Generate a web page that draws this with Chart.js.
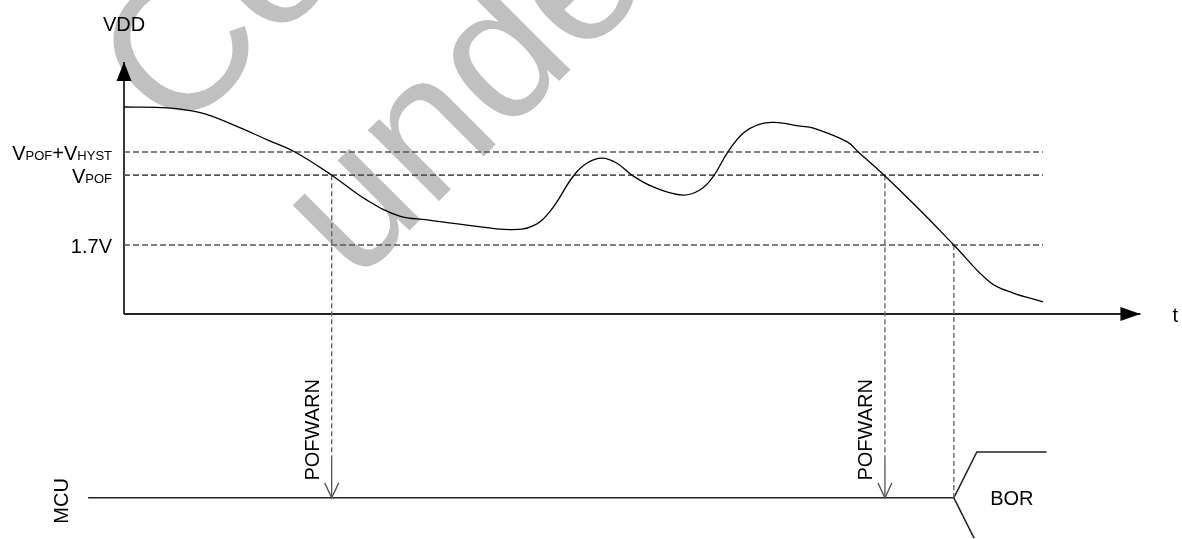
<!DOCTYPE html>
<html>
<head>
<meta charset="utf-8">
<script src="https://cdn.jsdelivr.net/npm/chart.js@4.4.1/dist/chart.umd.min.js"></script>
<style>
    html, body { margin: 0; padding: 0; background: #fff; }
    #chartElem { display: block; }
</style>
</head>
<body>
<canvas id="chartElem" width="1182" height="539"></canvas>
<script>
// VDD curve (time in 0..100, level in arbitrary volt-like units)
const vddTime = [0, 4.7, 8.3, 11.9, 15.6, 18.6, 22.6, 26.4, 30.0, 33.0, 37.3, 42.0, 44.5, 46.4, 48.9, 50.4, 52.0, 53.6, 55.4, 57.6, 60.8, 62.7, 64.1, 65.7, 67.4, 69.2, 70.8, 73.6, 75.0, 78.7, 79.9, 82.8, 86.6, 90.3, 94.2, 96.7, 100];
const vddLevel = [5.10, 5.08, 4.96, 4.66, 4.29, 3.99, 3.42, 2.81, 2.41, 2.32, 2.19, 2.08, 2.17, 2.54, 3.40, 3.72, 3.84, 3.72, 3.40, 3.13, 2.93, 3.06, 3.38, 3.99, 4.46, 4.68, 4.72, 4.63, 4.58, 4.24, 3.99, 3.40, 2.56, 1.70, 0.79, 0.52, 0.30];

// threshold lines
const thresholdLevels = [3.99, 3.42, 1.70];
const thresholdLabels = [
    [['V', 'big'], ['POF', 'small'], ['+', 'big'], ['V', 'big'], ['HYST', 'small']],
    [['V', 'big'], ['POF', 'small']],
    [['1.7V', 'big']]
];

// events
const warnTimes = [22.6, 82.8];
const warnLabel = 'POFWARN';
const borTime = 90.3;

// MCU line
const mcuLevel = -4.53;
const mcuStart = -3.9;
const arrowStartLevel = -3.60;
const borHighLevel = -3.40;
const borLowLevel = -5.52;
const borRiseTime = 92.8;
const borHighEnd = 100.4;
const borLowTime = 92.5;

// axes
const yAxisTop = 6.21;
const xAxisEnd = 110.6;

const FONT = '"Liberation Sans", Arial, sans-serif';

const lineSet = (data, color, width, dash) => ({
    data: data,
    borderColor: color,
    borderWidth: width,
    borderDash: dash || [],
    pointRadius: 0,
    fill: false,
    tension: 0,
    clip: false
});

const datasets = [];

// VDD curve
const vddSet = lineSet(vddTime.map((t, i) => ({ x: t, y: vddLevel[i] })), '#000', 1.3);
vddSet.tension = 0.4;
datasets.push(vddSet);

// thresholds
thresholdLevels.forEach((lvl) => {
    datasets.push(lineSet([{ x: 0, y: lvl }, { x: 100, y: lvl }], '#555', 1.6, [6, 3]));
});

// POFWARN drops
warnTimes.forEach((t) => {
    datasets.push(lineSet([{ x: t, y: thresholdLevels[1] }, { x: t, y: arrowStartLevel }], '#666', 1.4, [5, 3]));
    datasets.push(lineSet([{ x: t, y: arrowStartLevel }, { x: t, y: mcuLevel }], '#555', 1.3));
});
datasets.push(lineSet([{ x: borTime, y: thresholdLevels[2] }, { x: borTime, y: mcuLevel }], '#666', 1.4, [5, 3]));

// axes
datasets.push(lineSet([{ x: 0, y: 0 }, { x: 0, y: yAxisTop }], '#222', 1.8));
datasets.push(lineSet([{ x: 0, y: 0 }, { x: xAxisEnd, y: 0 }], '#222', 1.8));

// MCU + BOR
datasets.push(lineSet([{ x: mcuStart, y: mcuLevel }, { x: borTime, y: mcuLevel }], '#222', 1.5));
datasets.push(lineSet([{ x: borTime, y: mcuLevel }, { x: borRiseTime, y: borHighLevel }, { x: borHighEnd, y: borHighLevel }], '#222', 1.5));
datasets.push(lineSet([{ x: borTime, y: mcuLevel }, { x: borLowTime, y: borLowLevel }], '#222', 1.5));

// Watermark behind the drawing
const watermarkPlugin = {
    id: 'watermark',
    beforeDatasetsDraw(chart) {
        const ctx = chart.ctx;
        ctx.save();
        ctx.fillStyle = '#c0c0c0';
        ctx.font = '190px ' + FONT;
        [['Confidential', 176, 141], ['under NDA', 355, 285]].forEach(([txt, x, y]) => {
            ctx.save();
            ctx.translate(x, y);
            ctx.rotate(-Math.PI / 4);
            ctx.fillText(txt, 0, 0);
            ctx.restore();
        });
        ctx.restore();
    }
};

// Arrowheads and labels
const annotatePlugin = {
    id: 'annotate',
    afterDatasetsDraw(chart) {
        const ctx = chart.ctx;
        const xs = chart.scales.x;
        const ys = chart.scales.y;
        const px = (t) => xs.getPixelForValue(t);
        const py = (v) => ys.getPixelForValue(v);

        ctx.save();
        ctx.fillStyle = '#000';

        // y axis arrow
        const ax = px(0), ay = py(yAxisTop);
        ctx.beginPath();
        ctx.moveTo(ax, ay);
        ctx.lineTo(ax - 7.5, ay + 19);
        ctx.lineTo(ax + 7.5, ay + 19);
        ctx.closePath();
        ctx.fill();

        // x axis arrow
        const bx = px(xAxisEnd), by = py(0);
        ctx.beginPath();
        ctx.moveTo(bx, by);
        ctx.lineTo(bx - 20, by - 7);
        ctx.lineTo(bx - 20, by + 7);
        ctx.closePath();
        ctx.fill();

        // open arrowheads on POFWARN
        ctx.strokeStyle = '#555';
        ctx.lineWidth = 1.3;
        warnTimes.forEach((t) => {
            const x = px(t), y = py(mcuLevel);
            ctx.beginPath();
            ctx.moveTo(x - 7, y - 15);
            ctx.lineTo(x, y);
            ctx.lineTo(x + 7, y - 15);
            ctx.stroke();
        });

        const big = '20px ' + FONT;
        const small = '13px ' + FONT;
        ctx.fillStyle = '#000';
        ctx.textBaseline = 'alphabetic';

        // VDD and t
        ctx.font = big;
        ctx.textAlign = 'center';
        ctx.fillText('VDD', ax, ay - 31);
        ctx.textAlign = 'left';
        ctx.fillText('t', bx + 32, by + 8);

        // threshold labels, right aligned
        thresholdLabels.forEach((parts, i) => {
            const right = px(0) - 12;
            const base = py(thresholdLevels[i]) + 8;
            let total = 0;
            parts.forEach(([s, size]) => {
                ctx.font = size === 'big' ? big : small;
                total += ctx.measureText(s).width;
            });
            let x = right - total;
            ctx.textAlign = 'left';
            parts.forEach(([s, size]) => {
                ctx.font = size === 'big' ? big : small;
                ctx.fillText(s, x, base);
                x += ctx.measureText(s).width;
            });
        });

        // rotated labels
        ctx.font = big;
        ctx.textAlign = 'center';
        const rotated = (txt, x, y) => {
            ctx.save();
            ctx.translate(x, y);
            ctx.rotate(-Math.PI / 2);
            ctx.fillText(txt, 0, 0);
            ctx.restore();
        };
        warnTimes.forEach((t) => {
            rotated(warnLabel, px(t) - 13, py(mcuLevel) - 68);
        });
        rotated('MCU', px(mcuStart) - 20, py(mcuLevel) + 3);

        // BOR
        ctx.textAlign = 'center';
        ctx.fillText('BOR', px(borTime) + 58, py(mcuLevel) + 7);

        ctx.restore();
    }
};

const chartElem = document.getElementById('chartElem');
const diagram = new Chart(chartElem, {
    type: 'line',
    data: { datasets: datasets },
    options: {
        responsive: false,
        devicePixelRatio: 1,
        animation: false,
        layout: {
            padding: { left: 124, right: 139, top: 9.56, bottom: 1.76 }
        },
        scales: {
            x: { type: 'linear', min: 0, max: 100, display: false },
            y: { type: 'linear', min: -5.5, max: 7.5, display: false }
        },
        plugins: {
            legend: { display: false },
            tooltip: { enabled: false }
        }
    },
    plugins: [watermarkPlugin, annotatePlugin]
});
</script>
</body>
</html>
